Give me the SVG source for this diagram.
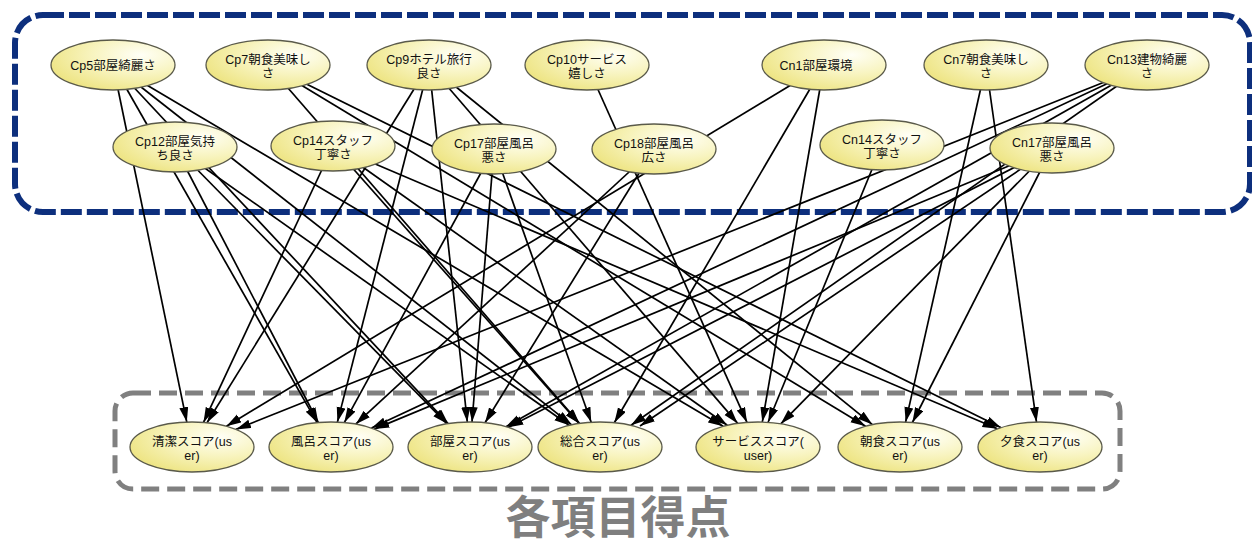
<svg xmlns="http://www.w3.org/2000/svg" width="1252" height="544" viewBox="0 0 1252 544">
<defs>
<style>
.n ellipse{fill:url(#g);stroke:#5a5a4a;stroke-width:1.3}
.n text{font-family:"Liberation Sans","Noto Sans CJK JP",sans-serif;font-size:12.5px;fill:#111;text-anchor:middle}
#edges line{stroke:#000;stroke-width:1.7;marker-end:url(#ah)}
</style>
<radialGradient id="g" cx="0.72" cy="0.3" r="0.85">
<stop offset="0" stop-color="#fffff6"/>
<stop offset="0.45" stop-color="#f8f4c0"/>
<stop offset="1" stop-color="#ece27a"/>
</radialGradient>
<marker id="ah" markerUnits="userSpaceOnUse" markerWidth="16" markerHeight="10" refX="15" refY="4.5" orient="auto">
<path d="M0,0 L15,4.5 L0,9 Z" fill="#000"/>
</marker>
</defs>
<rect width="1252" height="544" fill="#fff"/>
<rect x="15" y="15" width="1235" height="197" rx="28" fill="none" stroke="#0d2f7d" stroke-width="6" stroke-dasharray="21 5"/>
<rect x="115" y="393" width="1005" height="96" rx="18" fill="none" stroke="#808080" stroke-width="5" stroke-dasharray="18 8"/>
<text x="618" y="534" font-family="Liberation Sans, Noto Sans CJK JP, sans-serif" font-size="45" font-weight="bold" fill="#7f7f7f" text-anchor="middle">各項目得点</text>
<g id="edges">
<line x1="113" y1="65" x2="186.8" y2="422.1"/>
<line x1="113" y1="65" x2="317.1" y2="422.6"/>
<line x1="113" y1="65" x2="448.1" y2="423.6"/>
<line x1="113" y1="65" x2="571.7" y2="424.8"/>
<line x1="113" y1="65" x2="723.1" y2="426.3"/>
<line x1="268" y1="65" x2="579.5" y2="423.4"/>
<line x1="268" y1="65" x2="865.6" y2="426.2"/>
<line x1="268" y1="65" x2="1000.8" y2="427.6"/>
<line x1="429" y1="65" x2="207" y2="422.7"/>
<line x1="429" y1="65" x2="337.4" y2="422.1"/>
<line x1="429" y1="65" x2="467.3" y2="422"/>
<line x1="429" y1="65" x2="737.7" y2="423.4"/>
<line x1="429" y1="65" x2="872.4" y2="424.6"/>
<line x1="587" y1="65" x2="747" y2="422.4"/>
<line x1="175" y1="147" x2="318.3" y2="422.5"/>
<line x1="175" y1="147" x2="447.1" y2="423.8"/>
<line x1="175" y1="147" x2="569.2" y2="425.3"/>
<line x1="333" y1="146" x2="203.5" y2="422.4"/>
<line x1="333" y1="146" x2="579.1" y2="423.5"/>
<line x1="333" y1="146" x2="727.3" y2="425.3"/>
<line x1="333" y1="146" x2="997.4" y2="428.8"/>
<line x1="494" y1="149" x2="344.3" y2="422.6"/>
<line x1="494" y1="149" x2="472" y2="422"/>
<line x1="494" y1="149" x2="591.2" y2="422.3"/>
<line x1="654" y1="149" x2="485" y2="422.7"/>
<line x1="654" y1="149" x2="355.7" y2="424.2"/>
<line x1="824" y1="65" x2="226.4" y2="426.2"/>
<line x1="824" y1="65" x2="614.3" y2="422.7"/>
<line x1="824" y1="65" x2="762.3" y2="422.1"/>
<line x1="986" y1="65" x2="905.6" y2="422.1"/>
<line x1="986" y1="65" x2="1036.5" y2="422.1"/>
<line x1="1147" y1="65" x2="236" y2="429.4"/>
<line x1="1147" y1="65" x2="371.5" y2="428.1"/>
<line x1="1147" y1="65" x2="506" y2="426.7"/>
<line x1="1147" y1="65" x2="631" y2="425.3"/>
<line x1="882" y1="145" x2="768.1" y2="422.3"/>
<line x1="1052" y1="148" x2="374.3" y2="429.1"/>
<line x1="1052" y1="148" x2="508.3" y2="427.3"/>
<line x1="1052" y1="148" x2="640" y2="426"/>
<line x1="1052" y1="148" x2="780.8" y2="423.8"/>
<line x1="1052" y1="148" x2="912.4" y2="422.5"/>
</g>
<g id="cp5" class="n"><ellipse cx="113" cy="65" rx="62" ry="25"/><text x="113" y="70">Cp5部屋綺麗さ</text></g>
<g id="cp7" class="n"><ellipse cx="268" cy="65" rx="62" ry="25"/><text x="268" y="64">Cp7朝食美味し<tspan x="268" dy="14">さ</tspan></text></g>
<g id="cp9" class="n"><ellipse cx="429" cy="65" rx="62" ry="25"/><text x="429" y="64">Cp9ホテル旅行<tspan x="429" dy="14">良さ</tspan></text></g>
<g id="cp10" class="n"><ellipse cx="587" cy="65" rx="62" ry="25"/><text x="587" y="64">Cp10サービス<tspan x="587" dy="14">嬉しさ</tspan></text></g>
<g id="cn1" class="n"><ellipse cx="824" cy="65" rx="62" ry="25"/><text x="816" y="70">Cn1部屋環境</text></g>
<g id="cn7" class="n"><ellipse cx="986" cy="65" rx="62" ry="25"/><text x="986" y="64">Cn7朝食美味し<tspan x="986" dy="14">さ</tspan></text></g>
<g id="cn13" class="n"><ellipse cx="1147" cy="65" rx="62" ry="25"/><text x="1147" y="64">Cn13建物綺麗<tspan x="1147" dy="14">さ</tspan></text></g>
<g id="cp12" class="n"><ellipse cx="175" cy="147" rx="62" ry="25"/><text x="175" y="146">Cp12部屋気持<tspan x="175" dy="14">ち良さ</tspan></text></g>
<g id="cp14" class="n"><ellipse cx="333" cy="146" rx="62" ry="25"/><text x="333" y="145">Cp14スタッフ<tspan x="333" dy="14">丁寧さ</tspan></text></g>
<g id="cp17" class="n"><ellipse cx="494" cy="149" rx="62" ry="25"/><text x="494" y="148">Cp17部屋風呂<tspan x="494" dy="14">悪さ</tspan></text></g>
<g id="cp18" class="n"><ellipse cx="654" cy="149" rx="62" ry="25"/><text x="654" y="148">Cp18部屋風呂<tspan x="654" dy="14">広さ</tspan></text></g>
<g id="cn14" class="n"><ellipse cx="882" cy="145" rx="62" ry="25"/><text x="882" y="144">Cn14スタッフ<tspan x="882" dy="14">丁寧さ</tspan></text></g>
<g id="cn17" class="n"><ellipse cx="1052" cy="148" rx="62" ry="25"/><text x="1052" y="147">Cn17部屋風呂<tspan x="1052" dy="14">悪さ</tspan></text></g>
<g id="s_clean" class="n"><ellipse cx="192" cy="447" rx="62" ry="25"/><text x="192" y="446">清潔スコア(us<tspan x="192" dy="14">er)</tspan></text></g>
<g id="s_bath" class="n"><ellipse cx="331" cy="447" rx="62" ry="25"/><text x="331" y="446">風呂スコア(us<tspan x="331" dy="14">er)</tspan></text></g>
<g id="s_room" class="n"><ellipse cx="470" cy="447" rx="62" ry="25"/><text x="470" y="446">部屋スコア(us<tspan x="470" dy="14">er)</tspan></text></g>
<g id="s_total" class="n"><ellipse cx="600" cy="447" rx="62" ry="25"/><text x="600" y="446">総合スコア(us<tspan x="600" dy="14">er)</tspan></text></g>
<g id="s_service" class="n"><ellipse cx="758" cy="447" rx="62" ry="25"/><text x="758" y="446">サービススコア(<tspan x="758" dy="14">user)</tspan></text></g>
<g id="s_breakfast" class="n"><ellipse cx="900" cy="447" rx="62" ry="25"/><text x="900" y="446">朝食スコア(us<tspan x="900" dy="14">er)</tspan></text></g>
<g id="s_dinner" class="n"><ellipse cx="1040" cy="447" rx="62" ry="25"/><text x="1040" y="446">夕食スコア(us<tspan x="1040" dy="14">er)</tspan></text></g>
</svg>
